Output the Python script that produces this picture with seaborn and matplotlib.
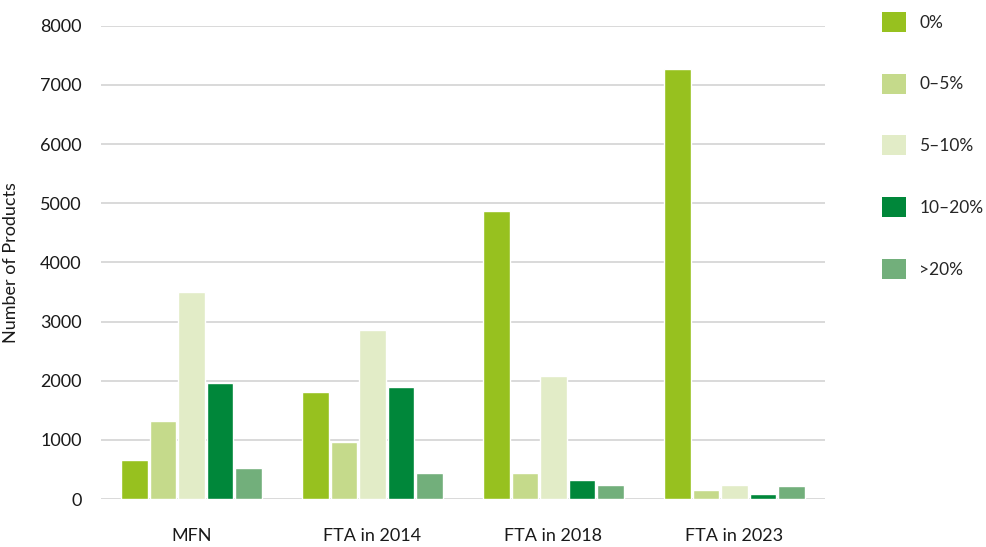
import matplotlib
matplotlib.use("Agg")
import matplotlib.pyplot as plt
import seaborn as sns
import pandas as pd
from matplotlib.patches import Patch

categories = ["MFN", "FTA in 2014", "FTA in 2018", "FTA in 2023"]
bands = ["0%", "0–5%", "5–10%", "10–20%", ">20%"]
v_0 = [660, 1810, 4870, 7265]
v_0_5 = [1320, 965, 445, 155]
v_5_10 = [3500, 2850, 2080, 230]
v_10_20 = [1955, 1885, 320, 85]
v_gt20 = [530, 445, 230, 220]
colors = ["#97C11F", "#C5DA8B", "#E2ECC7", "#00873A", "#72AF7B"]

series = [v_0, v_0_5, v_5_10, v_10_20, v_gt20]
rows = []
for b, vals in zip(bands, series):
    for c, v in zip(categories, vals):
        rows.append({"Category": c, "Band": b, "Value": v})
df = pd.DataFrame(rows)

sns.set_style("white")
plt.rcParams["font.family"] = ["Lato", "DejaVu Sans"]

fig = plt.figure(figsize=(9.86, 5.47), dpi=100)
ax = fig.add_axes([101/986, 1 - 499/547, (825-101)/986, (499-25.7)/547])

sns.barplot(data=df, x="Category", y="Value", hue="Band", order=categories,
            hue_order=bands, palette=colors, width=0.79, gap=0.07,
            saturation=1, legend=False, ax=ax, zorder=3)

ax.set_xlim(-0.5, 3.5)
ax.set_ylim(0, 8000)
ax.set_yticks(range(0, 8001, 1000))
ax.yaxis.grid(True, color="#D3D3D3", linewidth=1.2, zorder=0)
ax.set_axisbelow(True)
for s in ax.spines.values():
    s.set_visible(False)
ax.tick_params(axis="both", length=0, labelsize=13, colors="#1a1a1a")
ax.tick_params(axis="x", pad=21)
ax.tick_params(axis="y", pad=14)
ax.set_xlabel("")
ax.set_ylabel("Number of Products", fontsize=13, color="#1a1a1a")
ax.yaxis.set_label_coords(-82/724, 0.5)

handles = [Patch(facecolor=c, edgecolor="none", label=b) for c, b in zip(colors, bands)]
fig.legend(handles=handles, loc="upper left", bbox_to_anchor=(875/986, 1 - 5/547),
           frameon=False, fontsize=12.5, handlelength=1.4, handleheight=1.4,
           labelspacing=2.4, handletextpad=0.75, borderaxespad=0)

fig.savefig("out.png", dpi=100)
